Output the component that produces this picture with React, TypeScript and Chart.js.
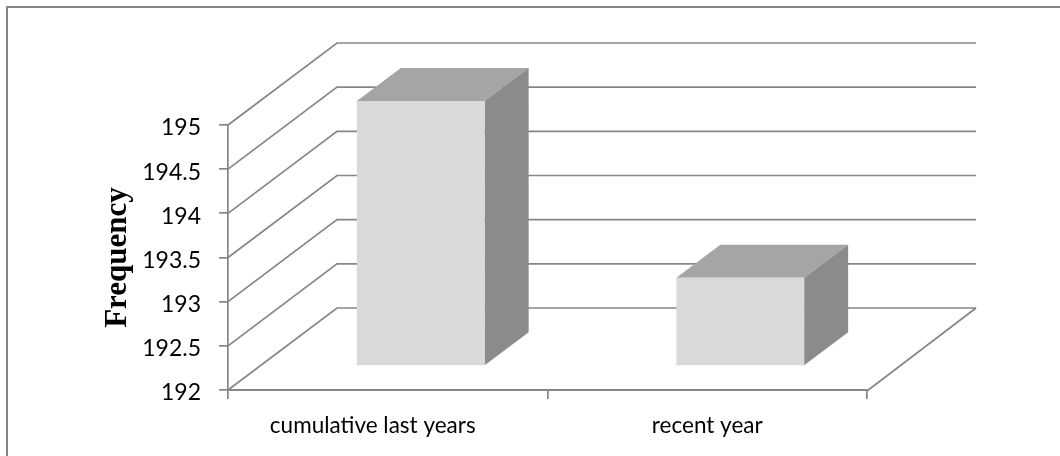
import React, { useEffect, useRef } from "react";
import { Chart, registerables } from "chart.js";

Chart.register(...registerables);

const categories = ["cumulative last years", "recent year"];
const frequency = [195, 193];
const yMin = 192;
const yMax = 195;
const yStep = 0.5;
const yTitle = "Frequency";

const LINE = "#868686";
const FRONT = "#d9d9d9";
const TOP = "#a5a5a5";
const SIDE = "#8b8b8b";
const WALL_DX = 109;
const WALL_DY = 82;
const BAR_DX = 33;
const BAR_DY = 24;
const BAR_DEPTH_X = 44;
const BAR_DEPTH_Y = 33;
const FIRST_LABEL_SHIFT = -15;
const Y_LABEL_SHIFT = 3;

const scene3d = {
  id: "scene3d",
  beforeDraw(chart: any) {
    const { ctx } = chart;
    ctx.save();
    ctx.fillStyle = "#ffffff";
    ctx.fillRect(0, 0, chart.width, chart.height);
    ctx.strokeStyle = "#868686";
    ctx.lineWidth = 2;
    ctx.beginPath();
    ctx.moveTo(7, chart.height);
    ctx.lineTo(7, 7);
    ctx.lineTo(chart.width, 7);
    ctx.stroke();
    ctx.restore();
    const first = chart.scales.x.getLabelItems()[0];
    if (first && !first.shifted) {
      first.options.translation[0] += FIRST_LABEL_SHIFT;
      first.shifted = true;
    }
    for (const item of chart.scales.y.getLabelItems()) {
      if (!item.shifted) {
        item.options.translation[1] += Y_LABEL_SHIFT;
        item.shifted = true;
      }
    }
  },
  beforeDatasetsDraw(chart: any) {
    const { ctx, chartArea: a, scales } = chart;
    ctx.save();
    ctx.strokeStyle = LINE;
    ctx.lineWidth = 1.7;
    for (const t of scales.y.ticks) {
      const y = scales.y.getPixelForValue(t.value);
      ctx.beginPath();
      ctx.moveTo(a.left, y);
      ctx.lineTo(a.left + WALL_DX, y - WALL_DY);
      ctx.lineTo(a.right + WALL_DX, y - WALL_DY);
      ctx.stroke();
    }
    ctx.beginPath();
    ctx.moveTo(a.right, a.bottom + 1);
    ctx.lineTo(a.right + WALL_DX, a.bottom - WALL_DY);
    ctx.stroke();

    ctx.translate(BAR_DX, -BAR_DY);
    for (const bar of chart.getDatasetMeta(0).data) {
      const { x, y, base, width } = bar.getProps(["x", "y", "base", "width"], true);
      const l = x - width / 2;
      const r = x + width / 2;
      ctx.fillStyle = TOP;
      ctx.beginPath();
      ctx.moveTo(l, y);
      ctx.lineTo(l + BAR_DEPTH_X, y - BAR_DEPTH_Y);
      ctx.lineTo(r + BAR_DEPTH_X, y - BAR_DEPTH_Y);
      ctx.lineTo(r, y);
      ctx.closePath();
      ctx.fill();
      ctx.fillStyle = SIDE;
      ctx.beginPath();
      ctx.moveTo(r, y);
      ctx.lineTo(r + BAR_DEPTH_X, y - BAR_DEPTH_Y);
      ctx.lineTo(r + BAR_DEPTH_X, base - BAR_DEPTH_Y);
      ctx.lineTo(r, base);
      ctx.closePath();
      ctx.fill();
    }
  },
  afterDatasetsDraw(chart: any) {
    chart.ctx.restore();
  },
};

export default function App() {
  const ref = useRef<HTMLCanvasElement | null>(null);
  useEffect(() => {
    document.body.style.margin = "0";
    document.body.style.background = "#ffffff";
    const chart = new Chart(ref.current as HTMLCanvasElement, {
      type: "bar",
      data: {
        labels: categories,
        datasets: [
          {
            data: frequency,
            backgroundColor: FRONT,
            borderWidth: 0,
            barPercentage: 1,
            categoryPercentage: 0.4,
            base: yMin,
            clip: false,
          } as any,
        ],
      },
      options: {
        responsive: false,
        animation: false,
        devicePixelRatio: 1,
        layout: { padding: { top: 125, right: 193, left: 0, bottom: 0 } },
        plugins: { legend: { display: false }, tooltip: { enabled: false } },
        scales: {
          x: {
            afterFit: (s: any) => {
              s.height = 66;
            },
            border: { color: LINE, width: 2 },
            grid: { drawOnChartArea: false, drawTicks: true, tickLength: 9, color: LINE, lineWidth: 1.7 },
            ticks: {
              color: "#000000",
              padding: 13,
              maxRotation: 0,
              font: { family: "Lato", size: 22.5 },
            },
          },
          y: {
            min: yMin,
            max: yMax,
            afterFit: (s: any) => {
              s.width = 228;
            },
            border: { color: LINE, width: 1.7 },
            grid: { drawOnChartArea: false, drawTicks: true, tickLength: 9, color: LINE, lineWidth: 1.7 },
            ticks: {
              stepSize: yStep,
              color: "#000000",
              padding: 18,
              font: { family: "Lato", size: 23 },
              callback: (v: any) => String(v),
            },
            title: {
              display: true,
              text: yTitle,
              color: "#000000",
              padding: { top: 99, bottom: 0 },
              font: { family: "Liberation Serif", size: 31, weight: "bold" },
            },
          },
        },
      },
      plugins: [scene3d],
    } as any);
    return () => chart.destroy();
  }, []);
  return <canvas ref={ref} width={1060} height={456} style={{ display: "block" }} />;
}
